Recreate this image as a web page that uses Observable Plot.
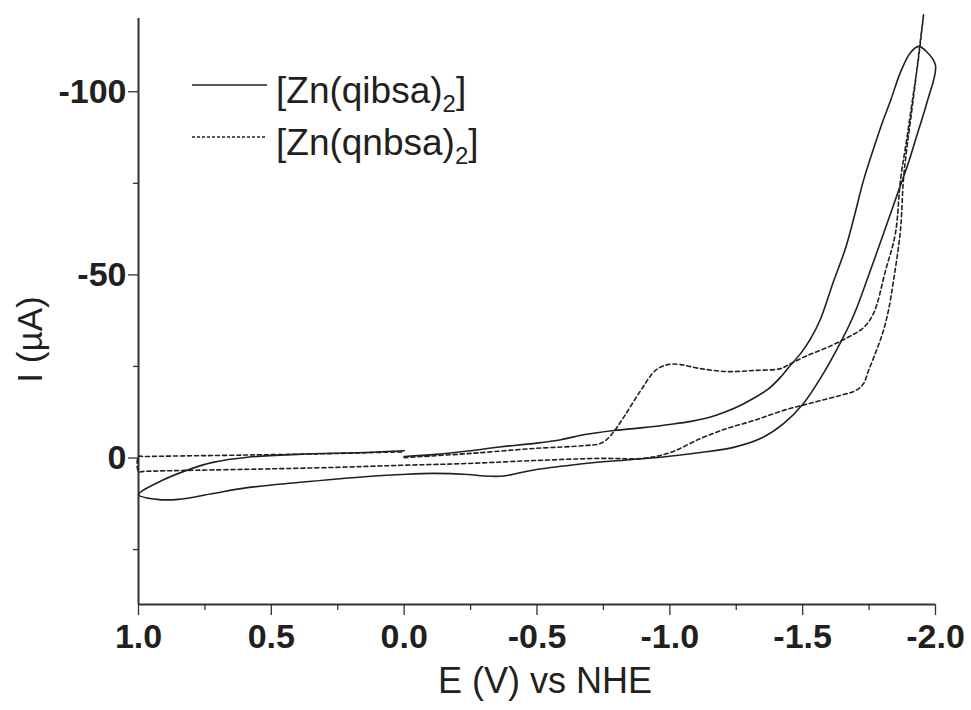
<!DOCTYPE html>
<html><head><meta charset="utf-8">
<script src="https://cdn.jsdelivr.net/npm/d3@7"></script>
<script src="https://cdn.jsdelivr.net/npm/@observablehq/plot@0.6"></script>
<style>
body{margin:0;background:#fff;}
#wrap{position:relative;width:971px;height:710px;}
#wrap svg.plot{position:absolute;left:0;top:0;}
#legend{position:absolute;left:0;top:0;pointer-events:none;}
</style></head><body><div id="wrap"></div>
<script>
// Series labels
const seriesNames = ["qibsa", "qnbsa"];

// [Zn(qibsa)2] — solid; E (V vs NHE), I (µA), in scan order
const qibsaE = [0.00,-0.12,-0.24,-0.36,-0.49,-0.59,-0.68,-0.79,-0.90,-0.99,-1.08,-1.15,-1.21,-1.28,-1.37,-1.42,-1.45,-1.492,-1.530,-1.568,-1.616,-1.661,-1.695,-1.729,-1.767,-1.800,-1.831,-1.868,-1.906,-1.936,-1.966,-2.00,
  -1.970,-1.932,-1.895,-1.861,-1.819,-1.782,-1.744,-1.710,-1.680,-1.642,-1.578,-1.503,-1.428,-1.341,-1.240,-1.115,-0.99,-0.86,-0.68,-0.60,-0.51,-0.45,-0.40,-0.36,-0.30,-0.24,-0.11,0.01,0.15,0.40,0.59,0.72,0.85,0.93,1.00,
  0.91,0.80,0.72,0.59,0.40,0.15,0.00];
const qibsaI = [-0.4,-1.0,-1.9,-3.0,-4.0,-5.0,-6.4,-7.5,-8.3,-9.1,-10.0,-11.1,-12.6,-14.9,-18.8,-22.3,-25.0,-28.5,-32.6,-38.1,-48.2,-57.2,-66.2,-75.8,-84.5,-91.6,-97.6,-105.3,-110.7,-112.4,-111.0,-107.2,
  -97.6,-88.6,-79.9,-73.0,-64.3,-56.7,-49.0,-42.2,-37.0,-31.5,-23.1,-14.9,-9.4,-5.3,-2.9,-1.5,-0.4,0.4,1.5,2.2,3.0,3.8,4.6,5.0,4.9,4.5,4.2,4.5,5.1,6.7,8.1,9.7,11.3,11.3,10.0,
  6.1,2.9,1.2,-0.2,-1.0,-1.5,-2.0];

// [Zn(qnbsa)2] — dashed
const qnbsaE = [0.00,-0.24,-0.49,-0.68,-0.74,-0.777,-0.826,-0.890,-0.946,-0.991,-1.040,-1.115,-1.217,-1.315,-1.417,-1.443,-1.518,-1.593,-1.669,-1.729,-1.767,-1.812,-1.849,-1.868,-1.891,-1.913,-1.936,-1.955,
  -1.943,-1.925,-1.906,-1.891,-1.879,-1.868,-1.842,-1.823,-1.804,-1.778,-1.748,-1.729,-1.699,-1.642,-1.541,-1.428,-1.315,-1.217,-1.115,-1.002,-0.901,-0.739,-0.487,-0.238,0.014,0.277,0.60,0.90,0.98,1.00,
  1.00,0.98,0.90,0.60,0.277,0.00];
const qnbsaI = [-0.1,-1.2,-2.6,-3.4,-4.0,-6.1,-11.1,-18.4,-23.9,-25.5,-25.5,-24.4,-23.6,-23.9,-24.4,-25.3,-28.0,-30.2,-32.9,-35.6,-39.5,-51.2,-61.3,-75.8,-86.7,-97.6,-109.1,-121.0,
  -114.0,-103.1,-92.2,-84.0,-75.8,-62.1,-48.5,-40.3,-34.8,-29.4,-23.9,-20.3,-18.4,-17.1,-15.2,-13.0,-10.2,-8.1,-5.3,-1.5,0.1,0.1,0.7,1.5,2.0,2.6,3.1,3.5,3.65,3.7,
  -0.4,-0.4,-0.5,-0.8,-1.2,-1.7];

const xMajor = [1.0, 0.5, 0.0, -0.5, -1.0, -1.5, -2.0];
const xMinor = [0.75, 0.25, -0.25, -0.75, -1.25, -1.75];
const yMajor = [-100, -50, 0];
const yMinor = [-75, -25, 25];
const xTitle = "E (V) vs NHE";
const yTitle = "I (\u00b5A)";

const rows = [
  ...qibsaE.map((e, i) => ({E: e, I: qibsaI[i], s: seriesNames[0]})),
  ...qnbsaE.map((e, i) => ({E: e, I: qnbsaI[i], s: seriesNames[1]}))
];
const ink = "#231f20";
const font = "'Liberation Sans', Arial, sans-serif";

const chart = Plot.plot({
  width: 971, height: 710,
  marginLeft: 138, marginRight: 36, marginTop: 18, marginBottom: 106,
  x: {domain: [1, -2]},
  y: {domain: [40, -120]},
  style: {fontFamily: font, color: ink, background: "white", overflow: "visible"},
  marks: [
    Plot.axisX({ticks: xMajor, tickSize: 11, tickPadding: 8, tickFormat: d => d.toFixed(1), fontSize: 34, fontWeight: "bold", label: null, stroke: "#333", strokeWidth: 1.3}),
    Plot.axisX({ticks: xMinor, tickSize: 6, tickFormat: () => "", label: null, stroke: "#333", strokeWidth: 1.3}),
    Plot.axisY({ticks: yMajor, tickSize: 10, tickPadding: 2, tickFormat: d => String(d), fontSize: 34, fontWeight: "bold", label: null, stroke: "#333", strokeWidth: 1.3}),
    Plot.axisY({ticks: yMinor, tickSize: 5, tickFormat: () => "", label: null, stroke: "#333", strokeWidth: 1.3}),
    Plot.ruleX([1], {stroke: "#333", strokeWidth: 2}),
    Plot.ruleY([40], {stroke: "#333", strokeWidth: 2}),
    Plot.line(rows.filter(d => d.s === seriesNames[0]), {x: "E", y: "I", stroke: ink, strokeWidth: 1.6, curve: "catmull-rom"}),
    Plot.line(rows.filter(d => d.s === seriesNames[1]), {x: "E", y: "I", stroke: ink, strokeWidth: 1.6, strokeDasharray: "4,3", curve: "catmull-rom"}),
    Plot.text([xTitle], {frameAnchor: "bottom", dx: 8, dy: 88, lineAnchor: "bottom", fontSize: 36, fill: ink}),
    Plot.text([yTitle], {frameAnchor: "left", textAnchor: "middle", dx: -108, dy: 28, rotate: -90, fontSize: 35, fill: ink})
  ]
});
chart.classList.add("plot");
const wrap = document.getElementById("wrap");
wrap.appendChild(chart);

// Legend overlay
const legendItems = [
  {name: "qibsa", dash: null},
  {name: "qnbsa", dash: "3,2"}
];
const leg = d3.select(wrap).append("svg").attr("id", "legend").attr("width", 971).attr("height", 710);
legendItems.forEach((it, i) => {
  const y = 85 + i * 52;
  leg.append("line").attr("x1", 192).attr("x2", 267).attr("y1", y).attr("y2", y)
    .attr("stroke", ink).attr("stroke-width", 1.4).attr("stroke-dasharray", it.dash);
  const t = leg.append("text").attr("x", 276).attr("y", y + 18).attr("font-family", font)
    .attr("font-size", 37).attr("fill", ink);
  t.append("tspan").text("[Zn(" + it.name + ")");
  t.append("tspan").attr("font-size", 24).attr("dy", 9).text("2");
  t.append("tspan").attr("dy", -9).text("]");
});
</script>
</body></html>
